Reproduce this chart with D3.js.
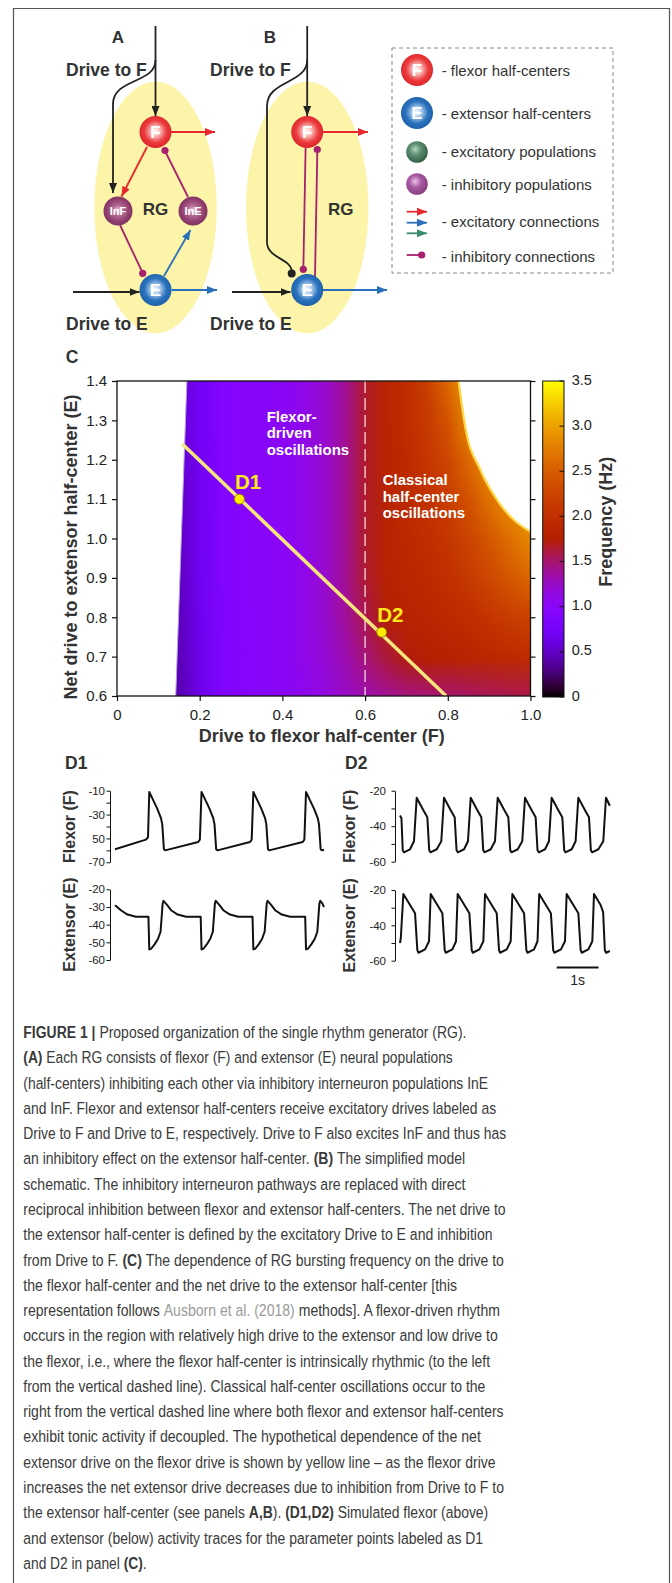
<!DOCTYPE html>
<html>
<head>
<meta charset="utf-8">
<script src="https://cdn.jsdelivr.net/npm/d3@7"></script>
<style>
  body { margin: 0; background: #fff; }
  svg { display: block; }
  text { font-family: "Liberation Sans", Arial, Helvetica, sans-serif; }
</style>
</head>
<body>
<svg id="fig" width="672" height="1583"></svg>
<script>
// ---- Panel C: frequency map (Hz) ----
const freqX = [0.10, 0.15, 0.20, 0.25, 0.30, 0.35, 0.40, 0.45, 0.50, 0.55, 0.60, 0.65, 0.70, 0.75, 0.80, 0.85, 0.90, 0.95, 1.00];
const freqY = [1.4, 1.3, 1.2, 1.1, 1.0, 0.9, 0.8, 0.7, 0.6];
const freqGrid = [
  [0.55, 0.55, 0.74, 0.90, 0.98, 1.00, 1.02, 1.10, 1.22, 1.40, 1.66, 1.84, 1.97, 2.20, 2.60, 3.00, 3.00, 3.00, 3.00],
  [0.55, 0.55, 0.74, 0.90, 0.98, 1.00, 1.02, 1.10, 1.22, 1.40, 1.66, 1.84, 1.96, 2.14, 2.42, 2.85, 3.00, 3.00, 3.00],
  [0.52, 0.52, 0.72, 0.90, 0.98, 1.00, 1.02, 1.10, 1.22, 1.40, 1.66, 1.84, 1.94, 2.08, 2.28, 2.60, 2.95, 3.00, 3.00],
  [0.50, 0.50, 0.72, 0.89, 0.98, 1.00, 1.02, 1.10, 1.22, 1.40, 1.66, 1.83, 1.92, 2.03, 2.17, 2.40, 2.68, 2.90, 3.00],
  [0.50, 0.50, 0.70, 0.88, 0.97, 1.00, 1.02, 1.10, 1.22, 1.40, 1.66, 1.82, 1.90, 1.98, 2.08, 2.25, 2.45, 2.65, 2.85],
  [0.48, 0.48, 0.69, 0.88, 0.97, 1.00, 1.02, 1.10, 1.22, 1.40, 1.64, 1.80, 1.87, 1.92, 2.00, 2.12, 2.28, 2.45, 2.58],
  [0.47, 0.47, 0.68, 0.87, 0.96, 1.00, 1.02, 1.10, 1.22, 1.38, 1.58, 1.74, 1.82, 1.86, 1.90, 1.97, 2.06, 2.16, 2.22],
  [0.45, 0.45, 0.66, 0.86, 0.95, 1.00, 1.02, 1.10, 1.20, 1.32, 1.48, 1.62, 1.72, 1.77, 1.80, 1.84, 1.88, 1.92, 1.95],
  [0.43, 0.43, 0.65, 0.85, 0.95, 1.00, 1.02, 1.08, 1.15, 1.25, 1.33, 1.40, 1.45, 1.48, 1.50, 1.52, 1.55, 1.57, 1.58]
];
// edges of the oscillation region
const leftEdge = [[0.142, 0.6], [0.169, 1.4]];
const rightEdge = [[0.826, 1.4], [0.842, 1.284], [0.879, 1.174], [0.919, 1.098], [0.96, 1.047], [1.0, 1.017]];
const yellowLine = [[0.158, 1.24], [0.796, 0.6]];
const points = [{ name: "D1", f: 0.296, e: 1.10 }, { name: "D2", f: 0.64, e: 0.762 }];
const dashedF = 0.6;
const xTicksC = [0, 0.2, 0.4, 0.6, 0.8, 1.0];
const yTicksC = [0.6, 0.7, 0.8, 0.9, 1.0, 1.1, 1.2, 1.3, 1.4];
const cbTicks = [0, 0.5, 1.0, 1.5, 2.0, 2.5, 3.0, 3.5];

// ---- Panels D1, D2: traces [time s, mV] ----
const d1Flexor = [[0, -59], [0.74, -51], [0.79, -49], [0.82, -11], [1.01, -25], [1.10, -33], [1.13, -38], [1.17, -59], [1.20, -60],
  [1.99, -53], [2.03, -51], [2.07, -11], [2.26, -25], [2.35, -33], [2.38, -38], [2.42, -59], [2.45, -60],
  [3.23, -53], [3.27, -51], [3.31, -11], [3.50, -25], [3.59, -33], [3.62, -38], [3.66, -59], [3.69, -60],
  [4.49, -53], [4.53, -51], [4.57, -11], [4.76, -25], [4.85, -33], [4.88, -38], [4.92, -59], [4.95, -60], [5.0, -59.5]];
const d1Extensor = [[0, -29], [0.15, -32], [0.3, -34.3], [0.5, -35.5], [0.8, -35.5], [0.82, -54], [0.87, -53.5], [0.95, -51], [1.03, -48], [1.09, -44], [1.14, -28], [1.16, -26.5],
  [1.25, -29], [1.35, -32], [1.5, -34.3], [1.7, -35.5], [2.05, -35.5], [2.07, -54], [2.12, -53.5], [2.2, -51], [2.28, -48], [2.34, -44], [2.39, -28], [2.41, -26.5],
  [2.5, -29], [2.6, -32], [2.75, -34.3], [2.95, -35.5], [3.29, -35.5], [3.31, -54], [3.36, -53.5], [3.44, -51], [3.52, -48], [3.58, -44], [3.63, -28], [3.65, -26.5],
  [3.74, -29], [3.84, -32], [3.99, -34.3], [4.19, -35.5], [4.55, -35.5], [4.57, -54], [4.62, -53.5], [4.70, -51], [4.78, -48], [4.84, -44], [4.89, -28], [4.91, -26.5],
  [4.96, -28], [5.0, -30]];
const d2Flexor = [[0, -34], [0.035, -35.5], [0.065, -53.5], [0.095, -54.7], [0.24, -53], [0.335, -48.5], [0.399, -24],
  [0.559, -31], [0.654, -35], [0.699, -53.5], [0.729, -54.7], [0.879, -53], [0.988, -48.5], [1.053, -24],
  [1.213, -31], [1.308, -35], [1.353, -53.5], [1.383, -54.7], [1.533, -53], [1.626, -48.5], [1.691, -24],
  [1.851, -31], [1.946, -35], [1.991, -53.5], [2.021, -54.7], [2.171, -53], [2.272, -48.5], [2.337, -24],
  [2.497, -31], [2.592, -35], [2.637, -53.5], [2.667, -54.7], [2.817, -53], [2.925, -48.5], [2.99, -24],
  [3.15, -31], [3.245, -35], [3.29, -53.5], [3.32, -54.7], [3.47, -53], [3.563, -48.5], [3.628, -24],
  [3.788, -31], [3.883, -35], [3.928, -53.5], [3.958, -54.7], [4.108, -53], [4.201, -48.5], [4.266, -24],
  [4.426, -31], [4.521, -35], [4.566, -53.5], [4.596, -54.7], [4.746, -53], [4.863, -48.5], [4.928, -24], [5.02, -28.5]];
const d2Extensor = [[0, -50], [0.02, -47], [0.08, -22.3],
  [0.24, -28.5], [0.36, -33.2], [0.415, -54], [0.44, -55.5], [0.6, -53.6], [0.694, -49], [0.734, -22.3],
  [0.894, -28.5], [1.014, -33.2], [1.069, -54], [1.094, -55.5], [1.254, -53.6], [1.34, -49], [1.38, -22.3],
  [1.54, -28.5], [1.66, -33.2], [1.715, -54], [1.74, -55.5], [1.9, -53.6], [1.994, -49], [2.034, -22.3],
  [2.194, -28.5], [2.314, -33.2], [2.369, -54], [2.394, -55.5], [2.554, -53.6], [2.648, -49], [2.688, -22.3],
  [2.848, -28.5], [2.968, -33.2], [3.023, -54], [3.048, -55.5], [3.208, -53.6], [3.29, -49], [3.33, -22.3],
  [3.49, -28.5], [3.61, -33.2], [3.665, -54], [3.69, -55.5], [3.85, -53.6], [3.947, -49], [3.987, -22.3],
  [4.147, -28.5], [4.267, -33.2], [4.322, -54], [4.347, -55.5], [4.507, -53.6], [4.601, -49], [4.641, -22.3],
  [4.8, -28.5], [4.86, -32.5], [4.9, -54], [4.93, -55.5], [5.02, -54.5]];
const d1FlexTicks = [-10, -20, -30, -40, -50, -60, -70];
const d1FlexLabels = ["-10", "", "-30", "", "50", "", "-70"];
const d1ExtTicks = [-20, -30, -40, -50, -60];
const d1ExtLabels = ["-20", "-30", "-40", "-50", "-60"];
const d2Ticks = [-20, -30, -40, -50, -60];
const d2Labels = ["-20", "", "-40", "", "-60"];

// ---- legend and caption text ----
const legendItems = ["- flexor half-centers", "- extensor half-centers", "- excitatory populations",
  "- inhibitory populations", "- excitatory connections", "- inhibitory connections"];
const captionLines = [
  [["b", "FIGURE 1 | "], ["n", "Proposed organization of the single rhythm generator (RG)."]],
  [["b", "(A)"], ["n", " Each RG consists of flexor (F) and extensor (E) neural populations"]],
  [["n", "(half-centers) inhibiting each other via inhibitory interneuron populations InE"]],
  [["n", "and InF. Flexor and extensor half-centers receive excitatory drives labeled as"]],
  [["n", "Drive to F and Drive to E, respectively. Drive to F also excites InF and thus has"]],
  [["n", "an inhibitory effect on the extensor half-center. "], ["b", "(B)"], ["n", " The simplified model"]],
  [["n", "schematic. The inhibitory interneuron pathways are replaced with direct"]],
  [["n", "reciprocal inhibition between flexor and extensor half-centers. The net drive to"]],
  [["n", "the extensor half-center is defined by the excitatory Drive to E and inhibition"]],
  [["n", "from Drive to F. "], ["b", "(C)"], ["n", " The dependence of RG bursting frequency on the drive to"]],
  [["n", "the flexor half-center and the net drive to the extensor half-center [this"]],
  [["n", "representation follows "], ["l", "Ausborn et al. (2018)"], ["n", " methods]. A flexor-driven rhythm"]],
  [["n", "occurs in the region with relatively high drive to the extensor and low drive to"]],
  [["n", "the flexor, i.e., where the flexor half-center is intrinsically rhythmic (to the left"]],
  [["n", "from the vertical dashed line). Classical half-center oscillations occur to the"]],
  [["n", "right from the vertical dashed line where both flexor and extensor half-centers"]],
  [["n", "exhibit tonic activity if decoupled. The hypothetical dependence of the net"]],
  [["n", "extensor drive on the flexor drive is shown by yellow line \u2013 as the flexor drive"]],
  [["n", "increases the net extensor drive decreases due to inhibition from Drive to F to"]],
  [["n", "the extensor half-center (see panels "], ["b", "A,B"], ["n", "). "], ["b", "(D1,D2)"], ["n", " Simulated flexor (above)"]],
  [["n", "and extensor (below) activity traces for the parameter points labeled as D1"]],
  [["n", "and D2 in panel "], ["b", "(C)"], ["n", "."]]
];
const captionEnds = [466.7, 453.3, 488.3, 496.7, 506.7, 465, 466, 506, 492.7, 504, 457.3,
  500, 498.3, 490.7, 486, 504, 481, 496, 504.3, 488.3, 483.3, 146.7];

const svg = d3.select("#fig");
const defs = svg.append("defs");
const INK = "#333";

// gnuplot-like colour map used by the original figure
function freqColor(v) {
  const t = Math.max(0, Math.min(1, v / 3.5));
  return d3.rgb(255 * Math.sqrt(t), 255 * t * t * t, 255 * Math.max(0, Math.sin(2 * Math.PI * t))).formatHex();
}

// outer frame
svg.append("path").attr("d", "M13.5,1583V8.5H669.5V1583")
  .attr("fill", "none").attr("stroke", "#555").attr("stroke-width", 1.2);

// ---------- Panels A and B (schematic) ----------
function marker(id, color) {
  defs.append("marker").attr("id", id).attr("viewBox", "0 0 10 8")
    .attr("refX", 10).attr("refY", 4).attr("markerWidth", 10).attr("markerHeight", 8)
    .attr("markerUnits", "userSpaceOnUse").attr("orient", "auto")
    .append("path").attr("d", "M0,0L10,4L0,8Z").attr("fill", color);
}
const RED = "#e8282d", BLUE = "#2a6fba", GREEN = "#3c8a6c", MAG = "#a8206e", BLK = "#222";
marker("arBlk", BLK); marker("arRed", RED); marker("arBlue", BLUE); marker("arGreen", GREEN);

function radial(id, stops, cx, cy, r) {
  const g = defs.append("radialGradient").attr("id", id)
    .attr("cx", cx || "50%").attr("cy", cy || "50%").attr("r", r || "55%");
  stops.forEach(([o, c]) => g.append("stop").attr("offset", o).attr("stop-color", c));
}
radial("gF", [[0, "#ffffff"], [0.22, "#fbc4c2"], [0.6, "#ec3b3d"], [1, "#d61f26"]], "50%", "48%", "58%");
radial("gE", [[0, "#ffffff"], [0.22, "#b7d3f0"], [0.6, "#2a72bd"], [1, "#1a5aa3"]], "50%", "48%", "58%");
radial("gI", [[0, "#f4d6e6"], [0.3, "#b36a93"], [0.7, "#8f3b6c"], [1, "#7a2f5e"]], "50%", "48%", "58%");
radial("gG", [[0, "#b4d4c0"], [0.45, "#5a8c6e"], [1, "#355f48"]], "42%", "38%", "62%");
radial("gP", [[0, "#ecc4ea"], [0.45, "#a85aa3"], [1, "#85407f"]], "42%", "38%", "62%");

const ab = svg.append("g");
[155.5, 307.2].forEach(cx => ab.append("ellipse").attr("cx", cx).attr("cy", 207.5)
  .attr("rx", 61.2).attr("ry", 125.8).attr("fill", "#fcf4a8"));

function link(d, color, mk, w) {
  ab.append("path").attr("d", d).attr("fill", "none").attr("stroke", color)
    .attr("stroke-width", w || 1.8).attr("marker-end", mk ? `url(#${mk})` : null);
}
function ball(x, y, color, r) { ab.append("circle").attr("cx", x).attr("cy", y).attr("r", r || 3.6).attr("fill", color); }
function node(g, x, y, r, grad, label, fs) {
  g.append("circle").attr("cx", x).attr("cy", y).attr("r", r).attr("fill", `url(#${grad})`);
  if (label) g.append("text").attr("x", x).attr("y", y).attr("text-anchor", "middle")
    .attr("dominant-baseline", "central").attr("fill", "#fff").attr("font-weight", "bold")
    .attr("font-size", fs).text(label);
}
function label(x, y, txt, fs, anchor) {
  svg.append("text").attr("x", x).attr("y", y).attr("font-size", fs).attr("font-weight", "bold")
    .attr("fill", INK).attr("text-anchor", anchor || "start").text(txt);
}

// A
link("M155.5,26V116", BLK, "arBlk");
link("M155.5,60C155.5,84 113,78 113,104V193", BLK, "arBlk");
link("M171,132H215", RED, "arRed");
link("M147,147L121.5,196.5", RED, "arRed");
link("M188,197L165,151", MAG); ball(165, 150.5, MAG);
link("M120,225L142.7,273", MAG); ball(142.7, 273.3, MAG);
link("M164,276L190.5,230", BLUE, "arBlue");
link("M73,292H139.5", BLK, "arBlk");
link("M171.5,290H217", BLUE, "arBlue");
node(ab, 155.5, 132, 16, "gF", "F", 17);
node(ab, 155.5, 290, 16, "gE", "E", 17);
node(ab, 118, 211, 14.5, "gI", "InF", 11);
node(ab, 193, 211, 14.5, "gI", "InE", 11);
// B
link("M307.2,26V116", BLK, "arBlk");
link("M307.2,60C307.2,84 267,80 267,106V242C267,258 289,258 291.7,270", BLK);
ball(291.7, 273.5, BLK, 4);
link("M305.6,148L303.4,266", MAG); ball(303.3, 269.3, MAG);
link("M315,277L317.3,153", MAG); ball(317.3, 149.5, MAG);
link("M323,132H368", RED, "arRed");
link("M232,292H290.5", BLK, "arBlk");
link("M323,290H387", BLUE, "arBlue");
node(ab, 307.2, 132, 16, "gF", "F", 17);
node(ab, 307.2, 290, 16, "gE", "E", 17);

label(118, 42.7, "A", 17, "middle");
label(270, 42.7, "B", 17, "middle");
label(66, 76, "Drive to F", 17.5);
label(210, 76, "Drive to F", 17.5);
label(66, 330, "Drive to E", 17.5);
label(210, 330, "Drive to E", 17.5);
label(155.5, 215, "RG", 17, "middle");
label(340.7, 215, "RG", 17, "middle");

// legend
const lg = svg.append("g");
lg.append("rect").attr("x", 392).attr("y", 48).attr("width", 221).attr("height", 225)
  .attr("fill", "none").attr("stroke", "#888").attr("stroke-width", 1).attr("stroke-dasharray", "4,3");
node(lg, 417, 70, 16, "gF", "F", 17);
node(lg, 417, 113, 16, "gE", "E", 17);
node(lg, 417, 152, 10.8, "gG");
node(lg, 417, 184, 10.8, "gP");
[[211.7, RED, "arRed"], [222.7, BLUE, "arBlue"], [233.3, GREEN, "arGreen"]].forEach(([y, c, m]) =>
  lg.append("path").attr("d", `M406.7,${y}H427`).attr("stroke", c).attr("stroke-width", 1.8).attr("marker-end", `url(#${m})`));
lg.append("path").attr("d", "M406.7,255H421.7").attr("stroke", MAG).attr("stroke-width", 1.8);
lg.append("circle").attr("cx", 421.7).attr("cy", 255).attr("r", 3.6).attr("fill", MAG);
const legendY = [70, 113.3, 151.7, 184, 221.7, 256];
lg.selectAll("text.leg").data(legendItems).join("text").attr("class", "leg")
  .attr("x", 441.7).attr("y", (d, i) => legendY[i]).attr("dominant-baseline", "central")
  .attr("font-size", 15).attr("fill", INK).text(d => d);

// ---------- Panel C ----------
const xC = d3.scaleLinear([0, 1], [117, 530.5]);
const yC = d3.scaleLinear([0.6, 1.4], [696, 381]);
label(72, 362.7, "C", 17.5, "middle");

const pc = svg.append("g");
const clipLine = d3.line().x(d => xC(d[0])).y(d => yC(d[1]));
const rightPath = d3.line().x(d => xC(d[0])).y(d => yC(d[1])).curve(d3.curveMonotoneX)(rightEdge);
const clipD = `M${xC(leftEdge[0][0])},${yC(leftEdge[0][1])}L${xC(leftEdge[1][0])},${yC(leftEdge[1][1])}`
  + rightPath.replace(/^M/, "L") + `L${xC(1)},${yC(0.6)}Z`;
defs.append("clipPath").attr("id", "heatClip").append("path").attr("d", clipD);

const cv = document.createElement("canvas");
cv.width = freqX.length; cv.height = freqY.length;
const ctx = cv.getContext("2d");
freqGrid.forEach((row, j) => row.forEach((v, i) => { ctx.fillStyle = freqColor(v); ctx.fillRect(i, j, 1, 1); }));
const dx = freqX[1] - freqX[0], dy = freqY[0] - freqY[1];
pc.append("image").attr("href", cv.toDataURL())
  .attr("x", xC(freqX[0] - dx / 2)).attr("width", xC(freqX[freqX.length - 1] + dx / 2) - xC(freqX[0] - dx / 2))
  .attr("y", yC(freqY[0] + dy / 2)).attr("height", yC(freqY[freqY.length - 1] - dy / 2) - yC(freqY[0] + dy / 2))
  .attr("preserveAspectRatio", "none").attr("clip-path", "url(#heatClip)");
pc.append("path").attr("d", rightPath).attr("fill", "none").attr("stroke", "#ffd84a").attr("stroke-width", 2.2);
pc.append("path").attr("d", clipLine(leftEdge)).attr("fill", "none").attr("stroke", "#b9a0e0").attr("stroke-width", 1);

pc.append("line").attr("x1", xC(dashedF)).attr("x2", xC(dashedF)).attr("y1", yC(1.4)).attr("y2", yC(0.6))
  .attr("stroke", "#f6dde6").attr("stroke-opacity", 0.85).attr("stroke-width", 1.5).attr("stroke-dasharray", "12,5");
pc.append("path").attr("d", clipLine(yellowLine)).attr("stroke", "#f4e67c").attr("stroke-width", 3.5);

[[266.7, 416, ["Flexor-", "driven", "oscillations"]], [382.7, 479.3, ["Classical", "half-center", "oscillations"]]]
  .forEach(([x, y, lines]) => lines.forEach((t, i) => pc.append("text").attr("x", x).attr("y", y + i * 16.7)
    .attr("dominant-baseline", "central").attr("fill", "#fff").attr("font-weight", "bold").attr("font-size", 15).text(t)));

pc.selectAll("circle.pt").data(points).join("circle").attr("class", "pt")
  .attr("cx", d => xC(d.f)).attr("cy", d => yC(d.e)).attr("r", 5)
  .attr("fill", "#ffec00").attr("stroke", "#8a7000").attr("stroke-width", 0.8);
pc.selectAll("text.pt").data(points).join("text").attr("class", "pt")
  .attr("x", d => xC(d.f) + 8.6).attr("y", d => yC(d.e) - 17.3).attr("text-anchor", "middle")
  .attr("dominant-baseline", "central").attr("fill", "#ffe81a").attr("font-weight", "bold").attr("font-size", 20.5)
  .text(d => d.name);

// frame + axes
pc.append("rect").attr("x", xC(0)).attr("y", yC(1.4)).attr("width", xC(1) - xC(0)).attr("height", yC(0.6) - yC(1.4))
  .attr("fill", "none").attr("stroke", "#111").attr("stroke-width", 1.3);
const axY = pc.append("g").attr("transform", `translate(${xC(0)},0)`)
  .call(d3.axisLeft(yC).tickValues(yTicksC).tickFormat(d3.format(".1f")).tickSize(5).tickPadding(5).tickSizeOuter(0));
const axX = pc.append("g").attr("transform", `translate(0,${yC(0.6)})`)
  .call(d3.axisBottom(xC).tickValues(xTicksC).tickFormat(d => d === 0 ? "0" : d3.format(".1f")(d)).tickSize(5).tickPadding(8.5).tickSizeOuter(0));
const axR = pc.append("g").attr("transform", `translate(${xC(1)},0)`)
  .call(d3.axisRight(yC).tickValues(yTicksC).tickFormat("").tickSize(5).tickSizeOuter(0));
[axY, axX, axR].forEach(a => {
  a.select(".domain").remove();
  a.selectAll("line").attr("stroke", "#111").attr("stroke-width", 1.2);
  a.selectAll("text").attr("font-size", 15).attr("fill", "#222").attr("font-family", "Liberation Sans, Arial, sans-serif");
});
svg.append("text").attr("transform", "translate(70.7,547) rotate(-90)").attr("text-anchor", "middle")
  .attr("dominant-baseline", "central").attr("font-size", 18).attr("font-weight", "bold").attr("fill", INK)
  .text("Net drive to extensor half-center (E)");
svg.append("text").attr("x", 321.7).attr("y", 736).attr("text-anchor", "middle")
  .attr("dominant-baseline", "central").attr("font-size", 18).attr("font-weight", "bold").attr("fill", INK)
  .text("Drive to flexor half-center (F)");

// colour bar
const cb = d3.scaleLinear([0, 3.5], [697, 381]);
const grad = defs.append("linearGradient").attr("id", "cbGrad").attr("x1", 0).attr("y1", 1).attr("x2", 0).attr("y2", 0);
d3.range(0, 41).forEach(i => grad.append("stop").attr("offset", i / 40).attr("stop-color", freqColor(3.5 * i / 40)));
svg.append("rect").attr("x", 542.7).attr("y", cb(3.5)).attr("width", 21.3).attr("height", cb(0) - cb(3.5))
  .attr("fill", "url(#cbGrad)").attr("stroke", "#111").attr("stroke-width", 1);
svg.selectAll("line.cbt").data(cbTicks).join("line").attr("class", "cbt")
  .attr("x1", 559.5).attr("x2", 564).attr("y1", d => cb(d)).attr("y2", d => cb(d)).attr("stroke", "#111");
svg.selectAll("text.cbl").data(cbTicks).join("text").attr("class", "cbl")
  .attr("x", 571.7).attr("y", d => cb(d) - 1.5).attr("dominant-baseline", "central")
  .attr("font-size", 14.5).attr("fill", "#222").text(d => d === 0 ? "0" : d3.format(".1f")(d));
svg.append("text").attr("transform", "translate(606,521.7) rotate(-90)").attr("text-anchor", "middle")
  .attr("dominant-baseline", "central").attr("font-size", 18).attr("font-weight", "bold").attr("fill", INK)
  .text("Frequency (Hz)");

// ---------- Panels D1, D2 ----------
function trace(axisX, tx, ty, data, ticks, labels, pad, name, nameX) {
  const g = svg.append("g");
  const ax = g.append("g").attr("transform", `translate(${axisX},0)`)
    .call(d3.axisLeft(ty).tickValues(ticks).tickFormat((d, i) => labels[i]).tickSize(3.5).tickPadding(pad).tickSizeOuter(0));
  ax.select(".domain").attr("stroke", "#111");
  ax.selectAll("line").attr("stroke", "#111");
  ax.selectAll("text").attr("font-size", 11.5).attr("fill", "#222")
    .attr("font-family", "Liberation Sans Narrow, Arial Narrow, Liberation Sans, sans-serif");
  g.append("path").datum(data).attr("fill", "none").attr("stroke", "#111").attr("stroke-width", 2)
    .attr("stroke-linejoin", "round")
    .attr("d", d3.line().x(d => tx(d[0])).y(d => ty(d[1])));
  const [y0, y1] = ty.range();
  g.append("text").attr("transform", `translate(${nameX},${(y0 + y1) / 2}) rotate(-90)`).attr("text-anchor", "middle")
    .attr("dominant-baseline", "central").attr("font-size", 16).attr("font-weight", "bold").attr("fill", INK).text(name);
}
const tx1 = d3.scaleLinear([0, 5], [115, 324]);
const tx2 = d3.scaleLinear([0, 5], [400, 609]);
trace(110, tx1, d3.scaleLinear([-70, -10], [862.3, 790.7]), d1Flexor, d1FlexTicks, d1FlexLabels, 1.5, "Flexor (F)", 69);
trace(110, tx1, d3.scaleLinear([-60, -20], [960, 889.3]), d1Extensor, d1ExtTicks, d1ExtLabels, 1.5, "Extensor (E)", 69);
trace(395, tx2, d3.scaleLinear([-60, -20], [861.7, 790.7]), d2Flexor, d2Ticks, d2Labels, 5.5, "Flexor (F)", 349.3);
trace(395, tx2, d3.scaleLinear([-60, -20], [960.7, 890]), d2Extensor, d2Ticks, d2Labels, 5.5, "Extensor (E)", 349.3);
label(65, 769, "D1", 17.5);
label(345, 769, "D2", 17.5);
svg.append("line").attr("x1", tx2(3.75)).attr("x2", tx2(4.75)).attr("y1", 967.5).attr("y2", 967.5)
  .attr("stroke", "#111").attr("stroke-width", 2);
svg.append("text").attr("x", tx2(4.25)).attr("y", 985).attr("text-anchor", "middle")
  .attr("font-size", 14).attr("fill", "#222").text("1s");

// ---------- Caption ----------
// each run of text is its own element, squeezed horizontally so the line ends where it does in the figure
const cap = svg.append("g").attr("font-family", "Roboto, Liberation Sans, Arial, sans-serif").attr("font-size", 17);
function capText(s, txt) {
  return cap.append("text").style("white-space", "pre")
    .attr("font-weight", s === "b" ? 700 : 300)
    .attr("fill", s === "l" ? "#9a9a9a" : "#3a3a3a").text(txt);
}
function textWidth(s, txt) {
  if (!txt) return 0;
  const t = capText(s, txt);
  const w = t.node().getComputedTextLength();
  t.remove();
  return w;
}
captionLines.forEach((segs, i) => {
  const y = 1038 + i * 25.28;
  const widths = segs.map(([s, txt]) => textWidth(s, txt));
  const k = (captionEnds[i] - 23.3) / d3.sum(widths);
  let x = 23.3;
  segs.forEach(([s, txt], j) => {
    const lead = txt.length - txt.trimStart().length;
    const wl = textWidth(s, txt.slice(0, lead)) * k;
    capText(s, txt.trim()).attr("transform", `translate(${x + wl},${y}) scale(${k},1)`);
    x += widths[j] * k;
  });
});
</script>
</body>
</html>
